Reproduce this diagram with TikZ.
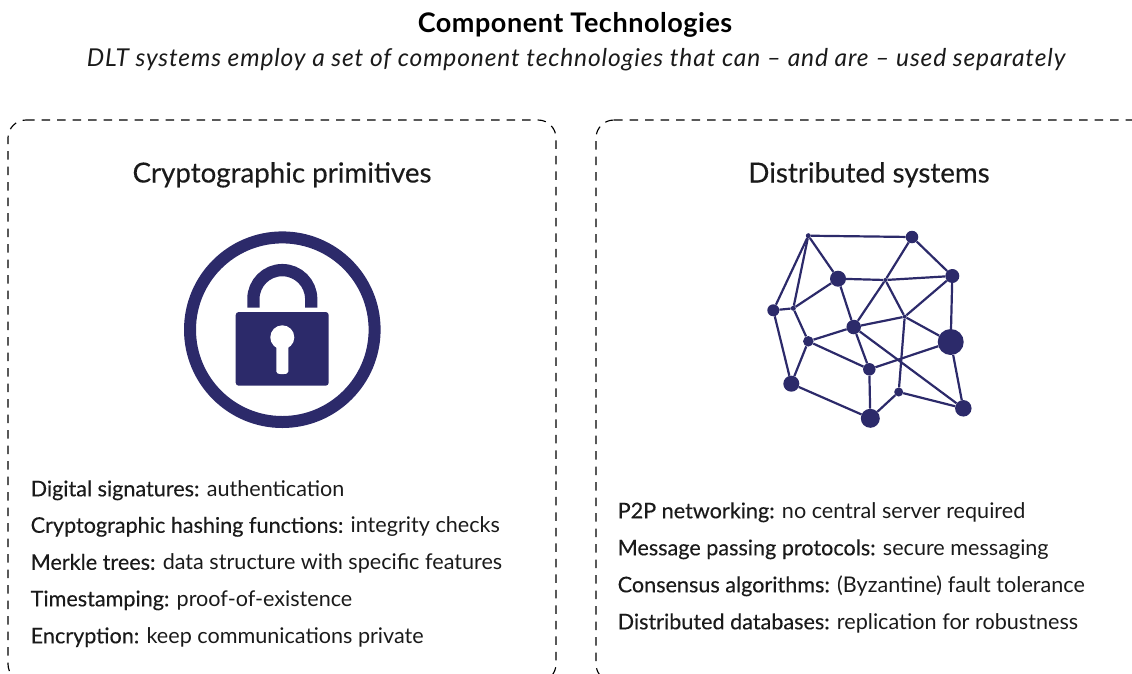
\documentclass[tikz,border=0pt]{standalone}
\usepackage{fontspec}
\setmainfont{Lato}
\newfontfamily\medfont[FakeBold=0.25]{Lato}
\newfontfamily\subfont[LetterSpace=3.4,ItalicFont=Lato Italic]{Lato}
\newfontfamily\ttlfont[LetterSpace=2]{Lato}
\definecolor{navy}{HTML}{2C2A6A}
\definecolor{ink}{HTML}{1A1A1A}
\tikzset{
  panel/.style={draw=black,line width=1.15pt,dash pattern=on 8.5pt off 7pt,rounded corners=18pt},
  hub/.style={circle,fill=navy,inner sep=0pt,minimum size=#1},
  link/.style={draw=navy,line width=2.2pt},
  ttl/.style={text=black,font=\fontsize{27}{30}\selectfont\ttlfont\bfseries,anchor=base},
  subttl/.style={text=ink,font=\fontsize{24.6}{28}\selectfont\subfont\itshape,anchor=base},
  head/.style={text=ink,font=\fontsize{27.7}{30}\selectfont\medfont,anchor=base},
  item/.style={text=ink,font=\fontsize{21.6}{25}\selectfont,anchor=base west,inner sep=0pt},
}
\newcommand{\kw}[1]{{\medfont #1}}
\begin{document}
\begin{tikzpicture}[x=1pt,y=-1pt]
\useasboundingbox (0,0) rectangle (1132,673);
\node[ttl] (title) at (575,32) {Component Technologies};
\node[subttl] (sub) at (576,66.5) {DLT systems employ a set of component technologies that can – and are – used separately};
% panels
\begin{scope}
\clip (0,0) rectangle (1132,673);
\draw[panel] (26,120) -- (556,120) -- (556,682) -- (8,682) -- (8,120) -- (26,120);
\draw[panel] (614,120) -- (1170,120) -- (1170,682) -- (596,682) -- (596,120) -- (614,120);
\end{scope}
\node[head] (h1) at (282,182.5) {Cryptographic primitives};
\node[head] (h2) at (869,182.5) {Distributed systems};
% lock
\draw[navy,line width=12pt] (282.3,329.7) circle (92.3);
\draw[navy,line width=12.3pt] (253.4,307.5) -- (253.4,299) arc[start angle=180,end angle=360,radius=28.9] -- (311.2,307.5);
\fill[navy,rounded corners=3pt] (235.7,312) rectangle (328.7,385.7);
\fill[white] (282.3,337.3) circle (12);
\fill[white,rounded corners=1.5pt] (276.3,340) -- (276.3,373) .. controls (280,374.3) and (284.6,374.3) .. (288.3,373) -- (288.3,340) -- cycle;
% network
\node[hub=5pt] (a) at (808.3,235.7) {};
\node[hub=12.5pt] (b) at (912,237) {};
\node[hub=14pt] (c) at (952.3,276) {};
\node[hub=16pt] (d) at (838,278.7) {};
\node[hub=4pt] (e) at (885.3,280) {};
\node[hub=12pt] (f) at (773.3,310.3) {};
\node[hub=5pt] (g) at (793.3,308.3) {};
\node[hub=4pt] (h) at (904.7,316.7) {};
\node[hub=14.5pt] (i) at (853.7,327) {};
\node[hub=26pt] (j) at (950.7,342) {};
\node[hub=10.5pt] (k) at (808.3,341.3) {};
\node[hub=12.5pt] (l) at (869.3,369.3) {};
\node[hub=16pt] (n) at (791.3,383.7) {};
\node[hub=9pt] (o) at (898.7,392) {};
\node[hub=16.5pt] (p) at (963.3,408.3) {};
\node[hub=19pt] (q) at (870.3,418.3) {};
\foreach \s/\t in {a/b,a/d,a/f,a/g,b/e,b/c,c/e,d/e,c/h,c/j,d/g,d/i,e/i,e/h,f/g,f/n,g/k,h/i,h/j,h/o,i/k,i/l,i/p,k/l,k/n,l/j,l/q,n/q,o/q,o/p,j/p}
  \draw[link] (\s) -- (\t);
% lists
\node[item] (l1) at (30.5,496.3) {\kw{Digital signatures:} authentication};
\node[item] (l2) at (30.5,532.8) {\kw{Cryptographic hashing functions:} integrity checks};
\node[item] (l3) at (30.5,569.8) {\kw{Merkle trees:} data structure with specific features};
\node[item] (l4) at (30.5,606.3) {\kw{Timestamping:} proof-of-existence};
\node[item] (l5) at (30.5,643.3) {\kw{Encryption:} keep communications private};
\node[item] (r1) at (617.5,518.3) {\kw{P2P networking:} no central server required};
\node[item] (r2) at (617.5,555.3) {\kw{Message passing protocols:} secure messaging};
\node[item] (r3) at (617.5,592.3) {\kw{Consensus algorithms:} (Byzantine) fault tolerance};
\node[item] (r4) at (617.5,629.3) {\kw{Distributed databases:} replication for robustness};
\end{tikzpicture}
\end{document}
